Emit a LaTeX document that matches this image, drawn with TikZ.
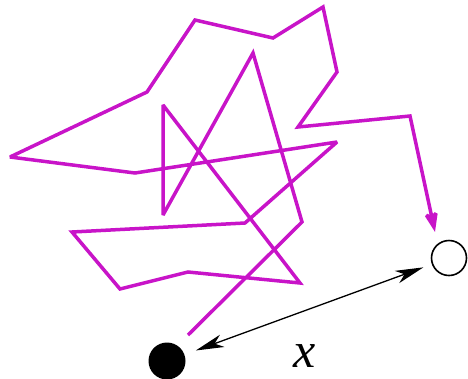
\documentclass[tikz,border=0pt]{standalone}
\usepackage{fontspec}
\newfontfamily\timesf{Liberation Serif}
\usetikzlibrary{arrows.meta}
\definecolor{walkmag}{RGB}{200,20,200}
\tikzset{
  walk/.style={draw=walkmag, line width=3.5pt, miter limit=3},
  dotfull/.style={circle, fill=black, inner sep=0pt, minimum size=37pt},
  dotopen/.style={circle, draw=black, line width=1.6pt, inner sep=0pt, minimum size=35pt},
  dist/.style={draw=black, line width=1.3pt, {Stealth[length=28pt,width=13pt,inset=8pt]}-{Stealth[length=28pt,width=13pt,inset=8pt]}},
  lbl/.style={font=\timesf\itshape\fontsize{50}{50}\selectfont, inner sep=0pt}
}
\begin{document}
\begin{tikzpicture}[x=1pt,y=1pt]
\useasboundingbox (0,0) rectangle (468,-378);
\node[dotfull] (A) at (167,-361) {};
\node[dotopen] (B) at (449,-258) {};
\coordinate (p0) at (188,-335);
\coordinate (p1) at (302,-222);
\coordinate (p2) at (253,-53);
\coordinate (p3) at (163,-215);
\coordinate (p4) at (163,-105);
\coordinate (p5) at (300,-283);
\coordinate (p6) at (188,-272);
\coordinate (p7) at (120,-289);
\coordinate (p8) at (72,-232);
\coordinate (p9) at (245,-223);
\coordinate (p10) at (337,-142);
\coordinate (p11) at (135,-173);
\coordinate (p12) at (10,-157);
\coordinate (p13) at (147,-92);
\coordinate (p14) at (195,-20);
\coordinate (p15) at (273,-38);
\coordinate (p16) at (323,-7);
\coordinate (p17) at (337,-72);
\coordinate (p18) at (298,-127);
\coordinate (p19) at (410,-116);
\coordinate (p20) at (435,-232);
\draw[walk, -{Stealth[length=22pt,width=16pt,inset=5pt]}]
  (p0) -- (p1) -- (p2) -- (p3) -- (p4) -- (p5) -- (p6) -- (p7) -- (p8) -- (p9)
  -- (p10) -- (p11) -- (p12) -- (p13) -- (p14) -- (p15) -- (p16) -- (p17)
  -- (p18) -- (p19) -- (p20);
\draw[dist, shorten <=12pt, shorten >=9pt] (A) -- (B);
\node[lbl] (xl) at (305,-356) {x};
\end{tikzpicture}
\end{document}
